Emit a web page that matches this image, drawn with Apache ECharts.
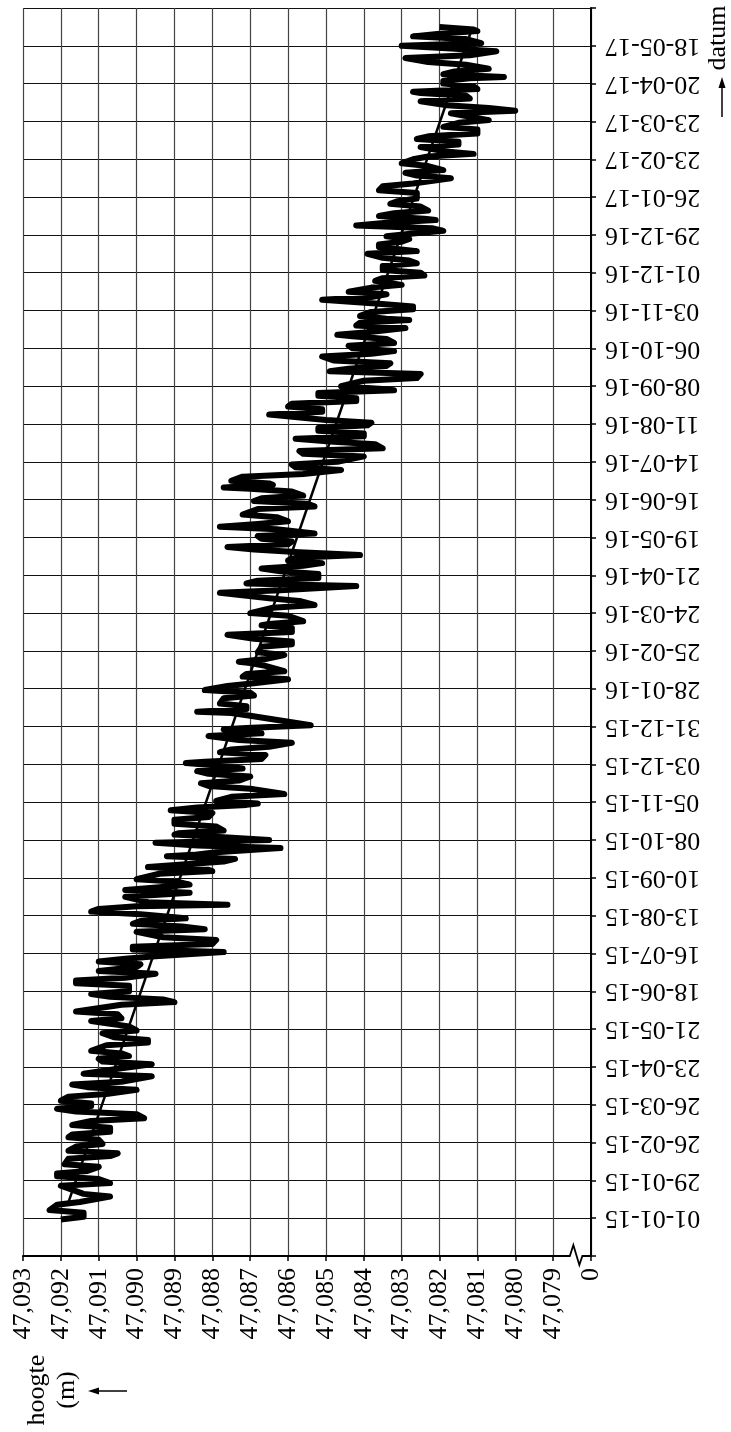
<!DOCTYPE html>
<html>
<head>
<meta charset="utf-8">
<title>hoogte / datum</title>
<script src="https://cdn.jsdelivr.net/npm/echarts@6/dist/echarts.min.js"></script>
<style>
  html, body { margin: 0; padding: 0; background: #fff; }
  #chart { width: 731px; height: 1432px; }
</style>
</head>
<body>
<div id="chart"></div>
<script>
// datum-as: dagen vanaf 01-01-15, een streep per 28 dagen
var dateLabels = ['01-01-15', '29-01-15', '26-02-15', '26-03-15', '23-04-15', '21-05-15',
  '18-06-15', '16-07-15', '13-08-15', '10-09-15', '08-10-15', '05-11-15', '03-12-15',
  '31-12-15', '28-01-16', '25-02-16', '24-03-16', '21-04-16', '19-05-16', '16-06-16',
  '14-07-16', '11-08-16', '08-09-16', '06-10-16', '03-11-16', '01-12-16', '29-12-16',
  '26-01-17', '23-02-17', '23-03-17', '20-04-17', '18-05-17'];

// hoogte-as (mm), van 47,093 naar 47,079 en dan de onderbreking naar 0
var heightLabels = ['47,093', '47,092', '47,091', '47,090', '47,089', '47,088', '47,087',
  '47,086', '47,085', '47,084', '47,083', '47,082', '47,081', '47,080', '47,079', '0'];

// metingen: dag (vanaf 01-01-15) en hoogte (m)
var measDay = [
  -1, 1, 4, 6, 10, 12, 16, 18, 24, 26, 29, 31, 33, 35, 38, 40, 44, 46, 48, 50,
  53, 55, 58, 60, 62, 64, 67, 69, 72, 74, 77, 79, 81, 83, 85, 87, 90, 92, 95, 97,
  99, 101, 105, 107, 109, 111, 114, 116, 118, 120, 122, 124, 128, 130, 132, 134, 137, 139, 142, 144,
  146, 148, 151, 153, 158, 160, 162, 164, 166, 168, 172, 174, 176, 178, 181, 183, 184, 186, 188, 190,
  192, 194, 197, 199, 201, 203, 206, 208, 212, 214, 216, 218, 220, 222, 225, 227, 229, 231, 232, 234,
  238, 240, 241, 243, 245, 247, 249, 251, 255, 257, 258, 260, 262, 264, 266, 268, 269, 271, 274, 276,
  278, 280, 282, 284, 285, 287, 290, 292, 295, 297, 300, 302, 304, 306, 307, 309, 312, 314, 318, 320,
  322, 324, 327, 329, 331, 333, 335, 337, 338, 340, 343, 345, 347, 349, 352, 354, 357, 359, 360, 362,
  363, 365, 372, 374, 375, 377, 379, 381, 385, 387, 389, 391, 394, 396, 399, 401, 403, 405, 409, 411,
  412, 414, 417, 419, 423, 425, 427, 429, 432, 434, 437, 439, 440, 442, 446, 448, 452, 454, 457, 459,
  463, 465, 468, 470, 472, 474, 477, 479, 481, 483, 485, 487, 489, 491, 493, 495, 497, 499, 501, 503,
  505, 507, 510, 512, 514, 516, 519, 521, 525, 527, 529, 531, 533, 535, 538, 540, 541, 543, 544, 546,
  549, 551, 554, 556, 558, 560, 564, 566, 568, 570, 573, 575, 577, 579, 581, 583, 585, 587, 589, 591,
  595, 597, 599, 601, 603, 605, 607, 609, 611, 613, 614, 616, 620, 622, 625, 627, 629, 631, 633, 635,
  638, 640, 642, 644, 646, 648, 651, 653, 654, 656, 659, 661, 663, 665, 666, 668, 671, 673, 675, 677,
  680, 682, 684, 686, 689, 691, 692, 694, 696, 698, 700, 702, 705, 707, 709, 711, 714, 716, 717, 719,
  721, 723, 725, 727, 729, 731, 733, 735, 737, 739, 740, 742, 744, 746, 749, 751, 753, 755, 759, 761,
  764, 766, 770, 772, 774, 776, 779, 781, 784, 786, 788, 790, 793, 795, 797, 799, 801, 803, 806, 808,
  811, 813, 814, 816, 818, 820, 822, 824, 827, 829, 831, 833, 834, 836, 838, 840, 842, 844, 845, 847,
  849, 851, 854, 856, 859, 861, 864, 866, 868, 870, 873, 875, 877, 879, 880, 882
];
var measHeight = [
  47.0920, 47.0914, 47.0914, 47.0923, 47.0921, 47.0915, 47.0907, 47.0914, 47.0920, 47.0907,
  47.0910, 47.0921, 47.0921, 47.0913, 47.0910, 47.0919, 47.0918, 47.0907, 47.0905, 47.0918,
  47.0916, 47.0909, 47.0910, 47.0918, 47.0917, 47.0907, 47.0907, 47.0917, 47.0912, 47.0898,
  47.0900, 47.0916, 47.0921, 47.0912, 47.0912, 47.0920, 47.0918, 47.0908, 47.0900, 47.0913,
  47.0917, 47.0904, 47.0896, 47.0914, 47.0909, 47.0904, 47.0896, 47.0909, 47.0910, 47.0902,
  47.0904, 47.0912, 47.0908, 47.0897, 47.0897, 47.0906, 47.0909, 47.0900, 47.0902, 47.0907,
  47.0912, 47.0904, 47.0905, 47.0916, 47.0904, 47.0890, 47.0893, 47.0907, 47.0912, 47.0902,
  47.0902, 47.0916, 47.0916, 47.0903, 47.0895, 47.0910, 47.0910, 47.0900, 47.0899, 47.0910,
  47.0903, 47.0895, 47.0877, 47.0901, 47.0901, 47.0880, 47.0879, 47.0893, 47.0900, 47.0882,
  47.0888, 47.0901, 47.0899, 47.0887, 47.0899, 47.0912, 47.0910, 47.0900, 47.0876, 47.0897,
  47.0903, 47.0891, 47.0886, 47.0903, 47.0894, 47.0886, 47.0889, 47.0900, 47.0894, 47.0880,
  47.0881, 47.0897, 47.0887, 47.0877, 47.0874, 47.0892, 47.0885, 47.0879, 47.0862, 47.0884,
  47.0895, 47.0865, 47.0877, 47.0890, 47.0889, 47.0877, 47.0879, 47.0890, 47.0890, 47.0881,
  47.0880, 47.0891, 47.0884, 47.0871, 47.0868, 47.0879, 47.0875, 47.0861, 47.0870, 47.0881,
  47.0883, 47.0873, 47.0870, 47.0881, 47.0884, 47.0872, 47.0878, 47.0887, 47.0882, 47.0867,
  47.0866, 47.0878, 47.0875, 47.0865, 47.0859, 47.0873, 47.0881, 47.0867, 47.0867, 47.0877,
  47.0871, 47.0854, 47.0870, 47.0875, 47.0884, 47.0871, 47.0871, 47.0878, 47.0877, 47.0869,
  47.0870, 47.0882, 47.0876, 47.0869, 47.0860, 47.0872, 47.0871, 47.0861, 47.0866, 47.0870,
  47.0873, 47.0866, 47.0861, 47.0868, 47.0867, 47.0859, 47.0859, 47.0869, 47.0876, 47.0859,
  47.0859, 47.0867, 47.0865, 47.0856, 47.0860, 47.0870, 47.0864, 47.0853, 47.0857, 47.0865,
  47.0878, 47.0862, 47.0842, 47.0871, 47.0868, 47.0852, 47.0852, 47.0862, 47.0867, 47.0856,
  47.0851, 47.0860, 47.0858, 47.0841, 47.0857, 47.0869, 47.0876, 47.0860, 47.0859, 47.0867,
  47.0868, 47.0853, 47.0863, 47.0878, 47.0868, 47.0860, 47.0863, 47.0872, 47.0868, 47.0853,
  47.0855, 47.0869, 47.0867, 47.0856, 47.0859, 47.0870, 47.0877, 47.0864, 47.0865, 47.0875,
  47.0872, 47.0856, 47.0846, 47.0858, 47.0859, 47.0847, 47.0840, 47.0856, 47.0857, 47.0835,
  47.0837, 47.0849, 47.0858, 47.0840, 47.0840, 47.0852, 47.0852, 47.0839, 47.0838, 47.0850,
  47.0865, 47.0851, 47.0851, 47.0860, 47.0859, 47.0842, 47.0842, 47.0852, 47.0852, 47.0832,
  47.0835, 47.0846, 47.0840, 47.0826, 47.0825, 47.0849, 47.0844, 47.0834, 47.0833, 47.0848,
  47.0851, 47.0838, 47.0832, 47.0843, 47.0844, 47.0832, 47.0834, 47.0843, 47.0847, 47.0839,
  47.0829, 47.0842, 47.0841, 47.0828, 47.0834, 47.0841, 47.0838, 47.0827, 47.0827, 47.0836,
  47.0851, 47.0838, 47.0834, 47.0844, 47.0838, 47.0830, 47.0830, 47.0837, 47.0835, 47.0824,
  47.0825, 47.0835, 47.0835, 47.0826, 47.0828, 47.0835, 47.0839, 47.0826, 47.0826, 47.0836,
  47.0836, 47.0830, 47.0828, 47.0834, 47.0827, 47.0819, 47.0822, 47.0842, 47.0834, 47.0821,
  47.0824, 47.0836, 47.0832, 47.0823, 47.0825, 47.0833, 47.0831, 47.0826, 47.0826, 47.0836,
  47.0835, 47.0827, 47.0817, 47.0826, 47.0829, 47.0819, 47.0823, 47.0830, 47.0827, 47.0823,
  47.0811, 47.0819, 47.0825, 47.0815, 47.0815, 47.0826, 47.0823, 47.0810, 47.0810, 47.0819,
  47.0815, 47.0807, 47.0807, 47.0813, 47.0817, 47.0800, 47.0807, 47.0818, 47.0825, 47.0812,
  47.0813, 47.0825, 47.0827, 47.0810, 47.0811, 47.0819, 47.0819, 47.0812, 47.0803, 47.0819,
  47.0816, 47.0807, 47.0813, 47.0823, 47.0829, 47.0812, 47.0805, 47.0817, 47.0830, 47.0809,
  47.0813, 47.0827, 47.0820, 47.0810, 47.0811, 47.0820
];

// trendlijn (begin en eind)
var trendDay = [11, 881];
var trendHeight = [47.09181, 47.08114];

var serif = 'Liberation Serif';

var chart = echarts.init(document.getElementById('chart'));

function toPoints(days, heights) {
  var pts = [];
  for (var i = 0; i < days.length; i++) {
    pts.push([heights[i] * 1000, days[i]]);
  }
  return pts;
}

var option = {
  animation: false,
  backgroundColor: '#fff',
  grid: { left: 23, right: 140, top: 8, bottom: 176, outerBoundsMode: 'none' },
  xAxis: {
    type: 'value',
    inverse: true,
    min: 47078,
    max: 47093,
    interval: 1,
    position: 'bottom',
    axisLine: { show: true, onZero: false, lineStyle: { color: '#000', width: 2 } },
    axisTick: { show: true, length: 5, lineStyle: { color: '#000', width: 1.5 } },
    axisLabel: {
      rotate: 90,
      margin: 12,
      color: '#000',
      fontFamily: serif,
      fontSize: 26,
      formatter: function (v) {
        return heightLabels[Math.round(47093 - v)] || '';
      }
    },
    splitLine: { show: true, lineStyle: { color: '#444', width: 1.2 } }
  },
  yAxis: {
    type: 'value',
    position: 'right',
    min: -28,
    max: 896,
    interval: 28,
    axisLine: { show: true, onZero: false, lineStyle: { color: '#000', width: 2 } },
    axisTick: { show: true, length: 5, lineStyle: { color: '#000', width: 1.5 } },
    axisLabel: {
      rotate: 180,
      margin: 14,
      color: '#000',
      fontFamily: serif,
      fontSize: 26,
      formatter: function (v) {
        return dateLabels[Math.round(v / 28)] || '';
      }
    },
    splitLine: { show: true, lineStyle: { color: '#111', width: 1.2 } }
  },
  series: [
    {
      name: 'meting',
      type: 'line',
      data: toPoints(measDay, measHeight),
      symbol: 'none',
      silent: true,
      lineStyle: { color: '#000', width: 6, join: 'round', cap: 'butt' }
    },
    {
      name: 'trend',
      type: 'line',
      data: toPoints(trendDay, trendHeight),
      symbol: 'none',
      silent: true,
      lineStyle: { color: '#000', width: 2.5 }
    }
  ]
};

chart.setOption(option);

// onderbreking in de hoogte-as, tussen 47,079 en 0
var bx = chart.convertToPixel({ xAxisIndex: 0 }, 47078.4);
var by = chart.convertToPixel({ yAxisIndex: 0 }, -28);

chart.setOption({
  graphic: [
    { type: 'rect', shape: { x: bx - 7, y: by - 3, width: 14, height: 6 }, style: { fill: '#fff' }, z: 100 },
    {
      type: 'polyline',
      shape: { points: [[bx - 9, by], [bx - 6, by], [bx - 2.5, by - 11], [bx + 3.5, by + 9], [bx + 6.5, by], [bx + 9, by]] },
      style: { stroke: '#000', lineWidth: 1.8, fill: null },
      z: 101
    },
    {
      type: 'text', x: 52, y: 1390, rotation: Math.PI / 2,
      style: { text: 'hoogte\n(m)', font: '26px "Liberation Serif"', fill: '#000', align: 'center', verticalAlign: 'middle', textAlign: 'center', textVerticalAlign: 'middle', lineHeight: 30 }
    },
    { type: 'line', shape: { x1: 127, y1: 1391, x2: 96, y2: 1391 }, style: { stroke: '#000', lineWidth: 1.5 } },
    { type: 'polygon', shape: { points: [[88, 1391], [99, 1387.5], [99, 1394.5]] }, style: { fill: '#000' } },
    {
      type: 'text', x: 718, y: 38, rotation: Math.PI / 2,
      style: { text: 'datum', font: '26px "Liberation Serif"', fill: '#000', align: 'center', verticalAlign: 'middle', textAlign: 'center', textVerticalAlign: 'middle' }
    },
    { type: 'line', shape: { x1: 722, y1: 117, x2: 722, y2: 85 }, style: { stroke: '#000', lineWidth: 1.5 } },
    { type: 'polygon', shape: { points: [[722, 77], [718.5, 88], [725.5, 88]] }, style: { fill: '#000' } }
  ]
});
</script>
</body>
</html>
